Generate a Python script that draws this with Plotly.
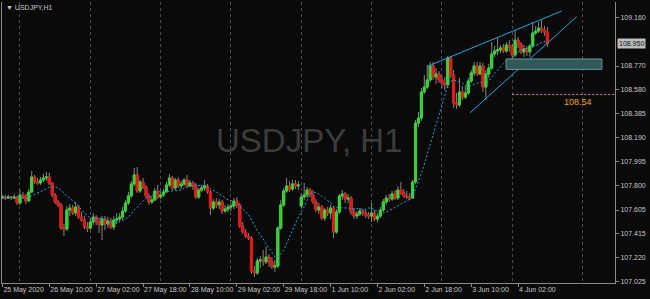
import plotly.graph_objects as go
import pandas as pd

# ---------------- data (USDJPY H1, 25 May 2020 18:00 -> 4 Jun 2020 12:00) ----------------
opens = [107.702, 107.710, 107.702, 107.710, 107.702, 107.710, 107.662, 107.727, 107.719, 107.678,
         107.751, 107.872, 107.832, 107.824, 107.848, 107.864, 107.872, 107.824, 107.727, 107.670,
         107.646, 107.459, 107.451, 107.605, 107.621, 107.581, 107.629, 107.548, 107.524, 107.467,
         107.459, 107.508, 107.548, 107.508, 107.484, 107.532, 107.492, 107.516, 107.467, 107.524,
         107.532, 107.548, 107.597, 107.662, 107.719, 107.816, 107.889, 107.759, 107.832, 107.791,
         107.719, 107.670, 107.686, 107.759, 107.710, 107.727, 107.751, 107.808, 107.864, 107.783,
         107.848, 107.799, 107.816, 107.848, 107.799, 107.824, 107.799, 107.710, 107.767, 107.783,
         107.799, 107.751, 107.621, 107.670, 107.646, 107.670, 107.597, 107.613, 107.629, 107.637,
         107.678, 107.646, 107.475, 107.427, 107.394, 107.378, 107.112, 107.096, 107.193, 107.201,
         107.185, 107.225, 107.185, 107.144, 107.152, 107.459, 107.646, 107.759, 107.799, 107.775,
         107.816, 107.799, 107.637, 107.710, 107.727, 107.767, 107.727, 107.670, 107.605, 107.629,
         107.540, 107.605, 107.581, 107.621, 107.427, 107.589, 107.719, 107.735, 107.694, 107.702,
         107.589, 107.556, 107.572, 107.597, 107.581, 107.564, 107.556, 107.581, 107.532, 107.556,
         107.605, 107.670, 107.702, 107.694, 107.735, 107.702, 107.767, 107.743, 107.719, 107.710,
         107.702, 107.832, 108.309, 108.349, 108.560, 108.600, 108.657, 108.770, 108.681, 108.706,
         108.657, 108.633, 108.617, 108.835, 108.697, 108.471, 108.455, 108.560, 108.519, 108.552,
         108.649, 108.714, 108.770, 108.706, 108.770, 108.600, 108.706, 108.754, 108.868, 108.892,
         108.900, 108.916, 108.892, 108.940, 108.924, 108.859, 108.980, 108.948, 108.884, 108.908,
         108.884, 108.932, 109.037, 109.053, 109.077, 109.061, 109.045]

highs = [107.727, 107.727, 107.727, 107.719, 107.735, 107.719, 107.767, 107.751, 107.735, 107.775,
         107.921, 107.889, 107.864, 107.872, 107.897, 107.913, 107.905, 107.832, 107.743, 107.686,
         107.662, 107.492, 107.637, 107.654, 107.646, 107.670, 107.646, 107.589, 107.556, 107.508,
         107.540, 107.581, 107.564, 107.540, 107.556, 107.556, 107.548, 107.540, 107.556, 107.581,
         107.581, 107.629, 107.686, 107.751, 107.840, 107.945, 107.953, 107.848, 107.864, 107.808,
         107.743, 107.719, 107.783, 107.808, 107.751, 107.775, 107.832, 107.897, 107.880, 107.864,
         107.872, 107.840, 107.864, 107.889, 107.848, 107.840, 107.824, 107.783, 107.808, 107.848,
         107.816, 107.767, 107.694, 107.702, 107.694, 107.686, 107.646, 107.654, 107.662, 107.702,
         107.710, 107.662, 107.508, 107.451, 107.419, 107.394, 107.152, 107.217, 107.233, 107.282,
         107.306, 107.249, 107.225, 107.201, 107.475, 107.686, 107.783, 107.864, 107.840, 107.848,
         107.848, 107.840, 107.743, 107.824, 107.791, 107.783, 107.767, 107.694, 107.662, 107.646,
         107.621, 107.629, 107.646, 107.637, 107.613, 107.735, 107.767, 107.751, 107.735, 107.719,
         107.621, 107.597, 107.621, 107.613, 107.605, 107.589, 107.662, 107.605, 107.581, 107.629,
         107.694, 107.727, 107.735, 107.759, 107.767, 107.799, 107.832, 107.775, 107.759, 107.743,
         107.848, 108.333, 108.398, 108.592, 108.697, 108.778, 108.803, 108.803, 108.754, 108.730,
         108.689, 108.681, 108.851, 108.851, 108.738, 108.552, 108.673, 108.608, 108.608, 108.673,
         108.738, 108.803, 108.803, 108.803, 108.795, 108.738, 108.787, 108.964, 108.932, 108.997,
         108.940, 108.948, 108.964, 108.980, 108.948, 109.061, 109.005, 108.964, 108.940, 108.932,
         108.948, 109.126, 109.094, 109.126, 109.142, 109.094, 109.086]

lows = [107.694, 107.686, 107.694, 107.686, 107.694, 107.646, 107.646, 107.694, 107.654, 107.670,
        107.743, 107.816, 107.808, 107.808, 107.832, 107.840, 107.808, 107.710, 107.654, 107.629,
        107.443, 107.394, 107.435, 107.556, 107.564, 107.556, 107.532, 107.508, 107.451, 107.427,
        107.443, 107.484, 107.484, 107.419, 107.362, 107.443, 107.459, 107.451, 107.443, 107.492,
        107.508, 107.524, 107.581, 107.646, 107.702, 107.799, 107.743, 107.743, 107.775, 107.702,
        107.646, 107.654, 107.678, 107.694, 107.694, 107.710, 107.743, 107.791, 107.767, 107.767,
        107.783, 107.775, 107.799, 107.783, 107.791, 107.767, 107.694, 107.694, 107.751, 107.759,
        107.735, 107.565, 107.605, 107.621, 107.613, 107.573, 107.581, 107.589, 107.597, 107.613,
        107.621, 107.459, 107.411, 107.378, 107.362, 107.088, 107.063, 107.080, 107.136, 107.152,
        107.168, 107.144, 107.128, 107.104, 107.136, 107.443, 107.629, 107.743, 107.751, 107.759,
        107.775, 107.767, 107.621, 107.686, 107.702, 107.710, 107.654, 107.589, 107.573, 107.524,
        107.516, 107.556, 107.532, 107.378, 107.411, 107.573, 107.686, 107.662, 107.662, 107.565,
        107.532, 107.532, 107.556, 107.556, 107.540, 107.532, 107.508, 107.516, 107.508, 107.540,
        107.589, 107.646, 107.670, 107.678, 107.686, 107.686, 107.727, 107.702, 107.694, 107.686,
        107.694, 107.816, 108.277, 108.325, 108.544, 108.584, 108.641, 108.657, 108.625, 108.633,
        108.592, 108.576, 108.592, 108.673, 108.430, 108.422, 108.438, 108.495, 108.503, 108.536,
        108.633, 108.689, 108.689, 108.697, 108.560, 108.495, 108.673, 108.738, 108.843, 108.859,
        108.876, 108.876, 108.876, 108.884, 108.835, 108.843, 108.916, 108.867, 108.843, 108.851,
        108.843, 108.916, 109.021, 109.037, 109.037, 109.013, 108.924]

closes = [107.710, 107.702, 107.710, 107.702, 107.710, 107.662, 107.727, 107.719, 107.678, 107.751,
          107.872, 107.832, 107.824, 107.848, 107.864, 107.872, 107.824, 107.727, 107.670, 107.646,
          107.459, 107.451, 107.605, 107.621, 107.581, 107.629, 107.548, 107.524, 107.467, 107.459,
          107.508, 107.548, 107.508, 107.484, 107.532, 107.492, 107.516, 107.467, 107.524, 107.532,
          107.548, 107.597, 107.662, 107.719, 107.816, 107.889, 107.759, 107.832, 107.791, 107.719,
          107.670, 107.686, 107.759, 107.710, 107.727, 107.751, 107.808, 107.864, 107.783, 107.848,
          107.799, 107.816, 107.848, 107.799, 107.824, 107.799, 107.710, 107.767, 107.783, 107.799,
          107.751, 107.621, 107.670, 107.646, 107.670, 107.597, 107.613, 107.629, 107.637, 107.678,
          107.646, 107.475, 107.427, 107.394, 107.378, 107.112, 107.096, 107.193, 107.201, 107.185,
          107.225, 107.185, 107.144, 107.152, 107.459, 107.646, 107.759, 107.799, 107.775, 107.816,
          107.799, 107.808, 107.710, 107.727, 107.767, 107.727, 107.670, 107.605, 107.629, 107.540,
          107.605, 107.581, 107.621, 107.427, 107.589, 107.719, 107.735, 107.694, 107.702, 107.589,
          107.556, 107.572, 107.597, 107.581, 107.564, 107.556, 107.581, 107.532, 107.556, 107.605,
          107.670, 107.702, 107.694, 107.735, 107.702, 107.767, 107.743, 107.719, 107.710, 107.702,
          107.832, 108.309, 108.349, 108.560, 108.600, 108.657, 108.770, 108.681, 108.706, 108.657,
          108.633, 108.617, 108.835, 108.697, 108.471, 108.455, 108.560, 108.519, 108.552, 108.649,
          108.714, 108.770, 108.706, 108.770, 108.600, 108.706, 108.754, 108.868, 108.892, 108.900,
          108.916, 108.892, 108.940, 108.924, 108.859, 108.980, 108.948, 108.884, 108.908, 108.884,
          108.932, 109.037, 109.053, 109.077, 109.061, 109.045, 108.950]

# time-axis labels, one every 16 hourly bars
tick_labels = ["25 May 2020", "26 May 10:00", "27 May 02:00", "27 May 18:00", "28 May 10:00",
               "29 May 02:00", "29 May 18:00", "1 Jun 10:00", "2 Jun 02:00", "2 Jun 18:00",
               "3 Jun 10:00", "4 Jun 02:00"]
price_ticks = [107.025, 107.220, 107.415, 107.605, 107.800, 107.995, 108.190, 108.385,
               108.580, 108.770, 109.160]
ma_period = 12
first_day_bar = 6          # 26 May 00:00
bars_per_day = 24

# drawn objects (bar index, price)
wedge_upper_bar = [144.9, 190.9]
wedge_upper_price = [108.766, 109.215]
wedge_lower_bar = [159.6, 196.0]
wedge_lower_price = [108.392, 109.169]
zone_bar = [171.9, 204.6]
zone_price = [108.743, 108.827]
level_bar = 174
level_price = 108.54
last_price = 108.950

x_range = [-0.14, 209.08]
y_range = [107.0145, 109.288]

# ---------------- figure ----------------
n = len(closes)
idx = list(range(n))
ma = pd.Series(closes).rolling(ma_period, min_periods=1).mean()
body_top = [max(o, c) for o, c in zip(opens, closes)]
body_bot = [min(o, c) for o, c in zip(opens, closes)]

BG = "#0a0a0a"
WICK = "#858585"
UP = "#33d633"
DN = "#ec1414"
AX = "#8a8a8a"
TXT = "#c8c8c8"
BLUE = "#1ea7e6"
FONT = "Liberation Sans, Arial, sans-serif"

fig = go.Figure()

# wicks (grey)
fig.add_trace(go.Candlestick(
    x=idx, open=opens, high=highs, low=lows, close=closes,
    increasing=dict(line=dict(color=WICK, width=1), fillcolor=WICK),
    decreasing=dict(line=dict(color=WICK, width=1), fillcolor=WICK),
    whiskerwidth=0, hoverinfo="skip", showlegend=False))
# coloured bodies
fig.add_trace(go.Candlestick(
    x=idx, open=opens, high=body_top, low=body_bot, close=closes,
    increasing=dict(line=dict(color=UP, width=1), fillcolor=UP),
    decreasing=dict(line=dict(color=DN, width=1), fillcolor=DN),
    whiskerwidth=0, hoverinfo="skip", showlegend=False))

# moving average
fig.add_trace(go.Scatter(x=idx, y=ma, mode="lines",
                         line=dict(color=BLUE, width=1, dash="2px,2px"),
                         hoverinfo="skip", showlegend=False))
# wedge lines
fig.add_trace(go.Scatter(x=wedge_upper_bar, y=wedge_upper_price, mode="lines",
                         line=dict(color=BLUE, width=1), hoverinfo="skip", showlegend=False))
fig.add_trace(go.Scatter(x=wedge_lower_bar, y=wedge_lower_price, mode="lines",
                         line=dict(color=BLUE, width=1), hoverinfo="skip", showlegend=False))

shapes = [
    dict(type="rect", xref="x", yref="y", x0=zone_bar[0], x1=zone_bar[1],
         y0=zone_price[0], y1=zone_price[1],
         fillcolor="#2f5858", line=dict(color="#6c9a9a", width=1), layer="above"),
    dict(type="line", xref="x", yref="y", x0=level_bar, x1=x_range[1],
         y0=level_price, y1=level_price,
         line=dict(color="#e8960a", width=1, dash="2px,2px")),
]

annotations = [
    dict(text="USDJPY, H1", xref="paper", yref="paper", x=0.5, y=0.5,
         xanchor="center", yanchor="middle", yshift=2, showarrow=False,
         font=dict(family="Liberation Sans, Arial", size=33, color="#3c3c3c")),
    dict(text="▼ USDJPY,H1", xref="paper", yref="paper", x=0, y=1,
         xanchor="left", yanchor="top", xshift=2, yshift=0, showarrow=False,
         font=dict(family=FONT, size=7, color=TXT)),
    dict(text=f"{level_price:.2f}", xref="x", yref="y", x=196.6, y=level_price,
         xanchor="center", yanchor="top", yshift=-1, showarrow=False,
         font=dict(family=FONT, size=9, color="#f5a10f")),
    dict(text=f"{last_price:.3f}", xref="paper", yref="y", x=1, y=last_price,
         xanchor="left", yanchor="middle", xshift=2, showarrow=False,
         bgcolor="#bdbdbd", borderpad=1,
         font=dict(family=FONT, size=7, color="#101010")),
]

fig.update_layout(
    width=650, height=299,
    margin=dict(l=2, r=35, t=2, b=16),
    paper_bgcolor=BG, plot_bgcolor=BG,
    showlegend=False,
    boxgap=0.3, boxgroupgap=0, boxmode="overlay",
    shapes=shapes, annotations=annotations,
    xaxis=dict(
        range=x_range, fixedrange=True, automargin=False,
        tickmode="array", tickvals=[16 * k for k in range(len(tick_labels))],
        ticktext=tick_labels, ticks="outside", ticklen=3, tickcolor=AX,
        tickangle=0, ticklabelposition="outside right",
        tickfont=dict(family=FONT, size=7, color=TXT),
        showline=True, linecolor=AX, linewidth=1,
        showgrid=False, zeroline=False,
        minor=dict(tickmode="linear", tick0=first_day_bar, dtick=bars_per_day,
                   showgrid=True, gridcolor="#4c4c4c", griddash="3px,3px", gridwidth=1, ticks=""),
        rangeslider=dict(visible=False),
    ),
    yaxis=dict(
        range=y_range, fixedrange=True, side="right", automargin=False,
        tickmode="array", tickvals=price_ticks, ticktext=[f"{v:.3f}" for v in price_ticks],
        ticks="outside", ticklen=3, tickcolor=AX,
        tickfont=dict(family=FONT, size=7, color=TXT),
        showline=True, linecolor=AX, linewidth=1, mirror=True,
        showgrid=False, zeroline=False,
    ),
)

fig.write_html("out.html")
